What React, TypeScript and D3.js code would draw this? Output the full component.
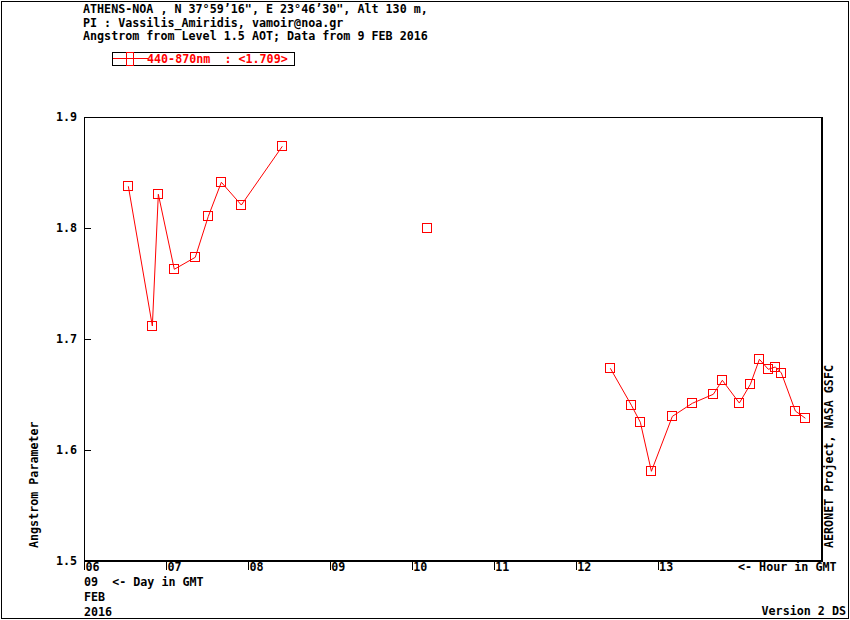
import React from "react";
import * as d3 from "d3";

const headerLines = [
  "ATHENS-NOA , N 37°59’16\", E 23°46’30\", Alt 130 m,",
  "PI : Vassilis_Amiridis, vamoir@noa.gr",
  "Angstrom from Level 1.5 AOT; Data from 9 FEB 2016",
];
const legendLabel = "440-870nm  : <1.709>";

const hours = [
  6.535, 6.828, 6.901, 7.096, 7.352, 7.511, 7.67, 7.914, 8.414,
  10.174,
  12.417, 12.674, 12.783, 12.918, 13.174, 13.418, 13.674, 13.784, 13.991,
  14.126, 14.236, 14.345, 14.431, 14.504, 14.675, 14.797,
];
const angstrom = [
  1.8376, 1.7117, 1.8304, 1.7628, 1.7736, 1.8105, 1.8412, 1.8207, 1.8736,
  1.8,
  1.6736, 1.6403, 1.625, 1.5808, 1.6303, 1.6421, 1.6502, 1.6628, 1.6423,
  1.6592, 1.6817, 1.6727, 1.6748, 1.6694, 1.6351, 1.6286,
];
const xTickHours = [6, 7, 8, 9, 10, 11, 12, 13];
const xTickLabels = ["06", "07", "08", "09", "10", "11", "12", "13"];
const yTicks = [1.5, 1.6, 1.7, 1.8, 1.9];

const FONT = "'DejaVu Sans Mono', 'Liberation Mono', monospace";
const RED = "#ff0000";

export default function App() {
  const x = d3.scaleLinear().domain([6, 15]).range([84.5, 822]);
  const y = d3.scaleLinear().domain([1.5, 1.9]).range([561, 117]);

  const pts = hours.map((h, i) => ({ h, v: angstrom[i] }));
  const segments: { h: number; v: number }[][] = [];
  pts.forEach((p, i) => {
    if (i === 0 || p.h - pts[i - 1].h > 1) segments.push([p]);
    else segments[segments.length - 1].push(p);
  });
  const line = d3
    .line<{ h: number; v: number }>()
    .x((d) => x(d.h))
    .y((d) => y(d.v));

  const txt = {
    fontFamily: FONT,
    fontWeight: 700,
    fontSize: 11.7,
  } as React.CSSProperties;

  return (
    <svg
      width={850}
      height={620}
      style={{ position: "absolute", left: 0, top: 0, background: "#fff" }}
    >
      <rect x={0} y={0} width={850} height={620} fill="#fff" />
      <rect
        x={1.5}
        y={1.5}
        width={847}
        height={617}
        fill="none"
        stroke="#000"
        strokeWidth={1.2}
        shapeRendering="crispEdges"
      />
      {headerLines.map((t, i) => (
        <text key={i} x={83} y={13 + i * 13.5} style={{ ...txt, whiteSpace: "pre" }} fill="#000">
          {t}
        </text>
      ))}
      {/* legend */}
      <rect
        x={112.5}
        y={52.5}
        width={182}
        height={13}
        fill="#fff"
        stroke="#000"
        strokeWidth={1}
        shapeRendering="crispEdges"
      />
      <line x1={113} x2={148} y1={58.5} y2={58.5} stroke={RED} strokeWidth={1} shapeRendering="crispEdges" />
      <rect x={126.5} y={52.5} width={7} height={13} fill="none" stroke={RED} strokeWidth={1} shapeRendering="crispEdges" />
      <text x={147} y={63} style={{ ...txt, whiteSpace: "pre" }} fill={RED}>
        {legendLabel}
      </text>

      {/* plot frame */}
      <rect
        x={84.5}
        y={117.5}
        width={737.5}
        height={443.5}
        fill="none"
        stroke="#000"
        strokeWidth={1.2}
        shapeRendering="crispEdges"
      />
      {yTicks.map((v) => (
        <g key={v}>
          <line x1={85} x2={91} y1={y(v)} y2={y(v)} stroke="#000" shapeRendering="crispEdges" />
          <text x={77} y={y(v) + 4} textAnchor="end" style={txt} fill="#000">
            {d3.format(".1f")(v)}
          </text>
        </g>
      ))}
      {xTickHours.map((h, i) => (
        <g key={h}>
          <line x1={x(h)} x2={x(h)} y1={561} y2={570} stroke="#000" shapeRendering="crispEdges" />
          <text x={x(h) + 1} y={570.5} style={txt} fill="#000">
            {xTickLabels[i]}
          </text>
        </g>
      ))}
      <text x={738} y={570.5} style={{ ...txt, whiteSpace: "pre" }} fill="#000">
        {"<- Hour in GMT"}
      </text>
      <text x={84} y={585.5} style={{ ...txt, whiteSpace: "pre" }} fill="#000">
        {"09  <- Day in GMT"}
      </text>
      <text x={84} y={600.5} style={txt} fill="#000">
        FEB
      </text>
      <text x={84} y={615.5} style={txt} fill="#000">
        2016
      </text>
      <text x={846} y={614.5} textAnchor="end" style={txt} fill="#000">
        Version 2 DS
      </text>
      <text
        transform="translate(38,548) rotate(-90)"
        style={txt}
        fill="#000"
      >
        Angstrom Parameter
      </text>
      <text
        transform="translate(833,548) rotate(-90)"
        style={txt}
        fill="#000"
      >
        AERONET Project, NASA GSFC
      </text>

      {/* data */}
      {segments.map((s, i) =>
        s.length > 1 ? (
          <path key={i} d={line(s) || ""} fill="none" stroke={RED} strokeWidth={1} />
        ) : null
      )}
      {pts.map((p, i) => (
        <rect
          key={i}
          x={Math.round(x(p.h)) - 4.5}
          y={Math.round(y(p.v)) - 4.5}
          width={9}
          height={9}
          fill="none"
          stroke={RED}
          strokeWidth={1.3}
          shapeRendering="crispEdges"
        />
      ))}
    </svg>
  );
}
